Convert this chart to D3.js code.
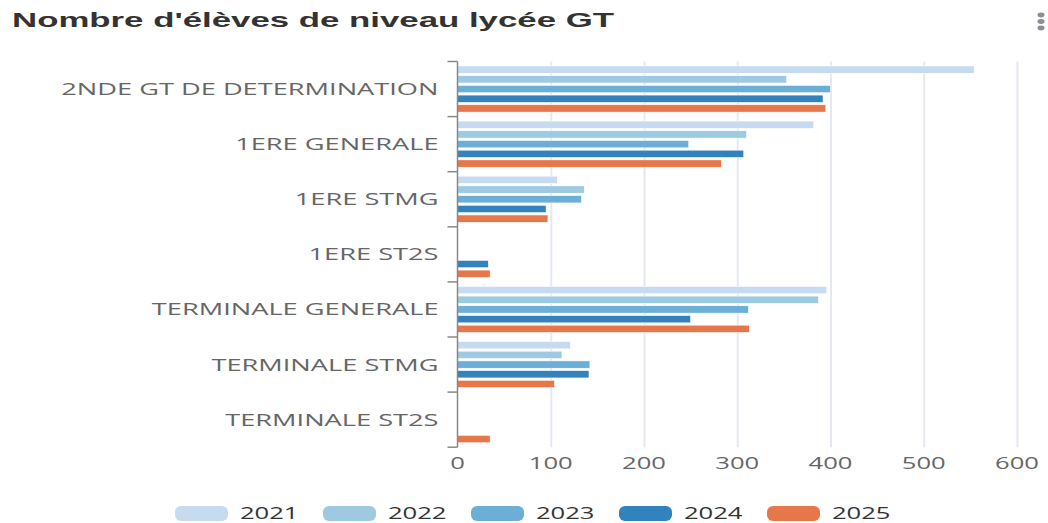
<!DOCTYPE html>
<html>
<head>
<meta charset="utf-8">
<script src="https://cdn.jsdelivr.net/npm/d3@7"></script>
<style>
  html, body { margin: 0; padding: 0; background: #fff; }
  svg { display: block; }
</style>
</head>
<body>
<div id="chart"></div>
<script>
// Data (null = no bar).
var categories = [
  '2NDE GT DE DETERMINATION',
  '1ERE GENERALE',
  '1ERE STMG',
  '1ERE ST2S',
  'TERMINALE GENERALE',
  'TERMINALE STMG',
  'TERMINALE ST2S'
];
var years = ['2021', '2022', '2023', '2024', '2025'];
var values2021 = [554, 382, 107, null, 396, 121, null];
var values2022 = [353, 310, 136, null, 387, 112, null];
var values2023 = [400, 248, 133, null, 312, 142, null];
var values2024 = [392, 307, 95, 33, 250, 141, null];
var values2025 = [395, 283, 97, 35, 313, 104, 35];
var xTicks = [0, 100, 200, 300, 400, 500, 600];
var colors = ['#c6dbef', '#9ecae1', '#6baed6', '#3182bd', '#e6774a'];

var series = [values2021, values2022, values2023, values2024, values2025];

var width = 1048, height = 523;
var margin = {top: 61.5, right: 31, bottom: 76, left: 457.5};
// The reference screenshot is stretched sideways, so text is widened too.
var stretch = 1.6;

var svg = d3.select('#chart').append('svg')
    .attr('width', width)
    .attr('height', height);

// Title and menu icon.
svg.append('text')
    .attr('x', 12)
    .attr('y', 27)
    .attr('textLength', 602)
    .attr('lengthAdjust', 'spacingAndGlyphs')
    .style('font-family', 'Liberation Sans, Arial, sans-serif')
    .style('font-weight', 'bold')
    .style('font-size', '21px')
    .style('fill', '#333')
    .text("Nombre d'élèves de niveau lycée GT");

svg.append('g').selectAll('ellipse')
    .data([15, 21.5, 28])
    .enter().append('ellipse')
    .attr('cx', 1041)
    .attr('cy', function(d) { return d; })
    .attr('rx', 3.5)
    .attr('ry', 2.4)
    .style('fill', '#8a8f99');

// Scales.
var x = d3.scaleLinear()
    .domain([0, 600])
    .range([margin.left, width - margin.right]);

var y = d3.scaleBand()
    .domain(categories)
    .range([margin.top, margin.top + 7 * 55.1])
    .padding(0);

var yInner = d3.scaleBand()
    .domain(years)
    .range([0, y.bandwidth()])
    .paddingInner(0.24)
    .paddingOuter(0.46);

var plotBottom = margin.top + 7 * 55.1;

// Grid lines.
svg.append('g').attr('class', 'grid').selectAll('line')
    .data(xTicks.slice(1))
    .enter().append('line')
    .attr('x1', function(d) { return x(d) + 0.5; })
    .attr('x2', function(d) { return x(d) + 0.5; })
    .attr('y1', margin.top)
    .attr('y2', plotBottom)
    .style('stroke', '#e4e8f2')
    .style('stroke-width', 2);

// Bars.
var groups = svg.append('g').attr('class', 'bars').selectAll('g')
    .data(categories)
    .enter().append('g')
    .attr('transform', function(d) { return 'translate(0,' + y(d) + ')'; });

groups.selectAll('rect')
    .data(function(d, ci) {
      return years.map(function(yr, si) {
        return {year: yr, value: series[si][ci], color: colors[si]};
      }).filter(function(e) { return e.value != null; });
    })
    .enter().append('rect')
    .attr('x', x(0))
    .attr('y', function(d) { return yInner(d.year); })
    .attr('width', function(d) { return x(d.value) - x(0); })
    .attr('height', yInner.bandwidth())
    .style('fill', function(d) { return d.color; })
    .style('stroke', '#fff')
    .style('stroke-width', 0.6);

// Left axis with category labels.
var yAxis = svg.append('g').attr('class', 'y-axis');
yAxis.append('line')
    .attr('x1', x(0)).attr('x2', x(0))
    .attr('y1', margin.top).attr('y2', plotBottom)
    .style('stroke', '#888').style('stroke-width', 1.5);
yAxis.selectAll('.tick')
    .data(d3.range(categories.length + 1))
    .enter().append('line')
    .attr('x1', x(0) - 10).attr('x2', x(0))
    .attr('y1', function(i) { return margin.top + i * y.step(); })
    .attr('y2', function(i) { return margin.top + i * y.step(); })
    .style('stroke', '#888').style('stroke-width', 1.5);
yAxis.selectAll('text')
    .data(categories)
    .enter().append('text')
    .attr('transform', function(d) {
      return 'translate(' + (x(0) - 19) + ',' + (y(d) + y.bandwidth() / 2 + 6) + ') scale(' + stretch + ',1)';
    })
    .attr('text-anchor', 'end')
    .style('font-family', 'Open Sans, sans-serif')
    .style('font-size', '17px')
    .style('fill', '#666')
    .text(function(d) { return d; });

// Bottom tick labels.
svg.append('g').attr('class', 'x-axis').selectAll('text')
    .data(xTicks)
    .enter().append('text')
    .attr('transform', function(d) {
      return 'translate(' + x(d) + ',' + (plotBottom + 22) + ') scale(' + stretch + ',1)';
    })
    .attr('text-anchor', 'middle')
    .style('font-family', 'Open Sans, sans-serif')
    .style('font-size', '16px')
    .style('fill', '#666')
    .text(function(d) { return d; });

// Legend.
var legend = svg.append('g').attr('class', 'legend').selectAll('g')
    .data(years)
    .enter().append('g')
    .attr('transform', function(d, i) { return 'translate(' + (175 + i * 148) + ',506)'; });

legend.append('rect')
    .attr('width', 53)
    .attr('height', 15)
    .attr('rx', 6)
    .style('fill', function(d, i) { return colors[i]; });

legend.append('text')
    .attr('transform', 'translate(65,13) scale(' + stretch + ',1)')
    .style('font-family', 'Open Sans, sans-serif')
    .style('font-size', '16px')
    .style('fill', '#333')
    .text(function(d) { return d; });
</script>
</body>
</html>
